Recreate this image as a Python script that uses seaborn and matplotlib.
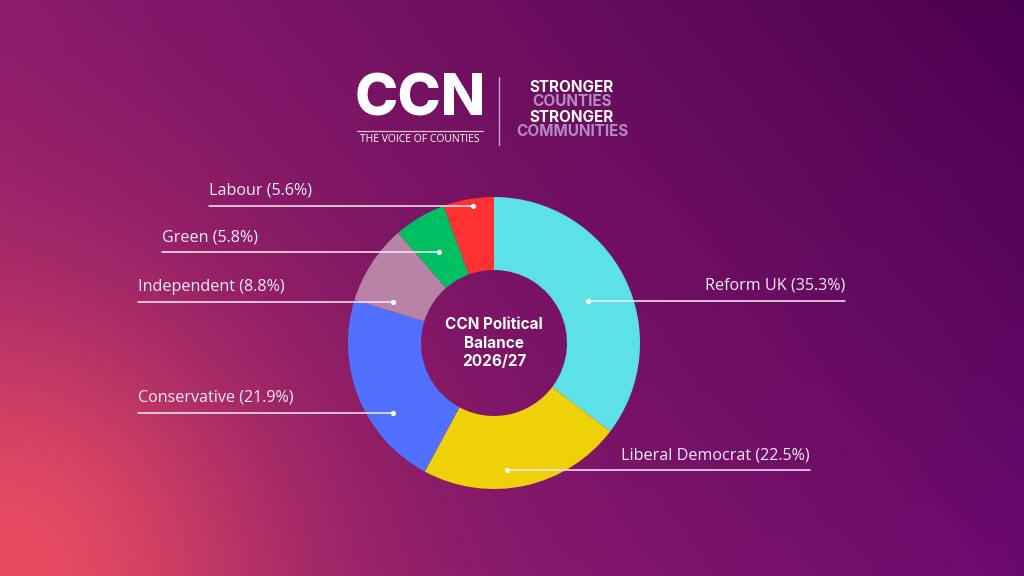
import numpy as np
import matplotlib.pyplot as plt
import seaborn as sns
from matplotlib.colors import to_rgb

# data
parties = ["Reform UK", "Liberal Democrat", "Conservative", "Independent", "Green", "Labour"]
shares = [35.3, 22.5, 21.9, 8.8, 5.8, 5.6]
colours = ["#5ce1e6", "#efd10a", "#5170ff", "#b983a8", "#00bf63", "#ff3131"]

# label layout: anchor dot (angle deg, radius px) and where the leader line ends
dot_ang = [24.2, 275.7, 214.6, 158.0, 121.3, 98.7]
dot_rad = [103, 128, 123, 109, 106, 139]
line_end = [845, 810, 138, 138, 162, 209]

W, H = 1024, 576
cx, cy = 494, H - 343
R, ring = 146, 73
txt_col = "#f6ebf6"

sns.set_style("white")
plt.rcParams["font.family"] = ["Open Sans", "DejaVu Sans"]

fig = plt.figure(figsize=(10.24, 5.76), dpi=100)
ax = fig.add_axes([0, 0, 1, 1])

# background gradient (purple top-right, pink-red bottom-left)
xx, yy = np.meshgrid(np.linspace(0, 1, W), np.linspace(0, 1, H))
tl, tr, bl, br = [np.array(to_rgb(c)) for c in ("#8c1b6c", "#4a0050", "#a22868", "#6a0a6e")]
xx3, yy3 = xx[..., None], yy[..., None]
bg = (1 - xx3) * (1 - yy3) * tl + xx3 * (1 - yy3) * tr + (1 - xx3) * yy3 * bl + xx3 * yy3 * br
d = np.sqrt((xx * W) ** 2 + ((1 - yy) * H) ** 2)
w = np.exp(-(d / 260) ** 2)[..., None]
bg = bg * (1 - w) + w * np.array(to_rgb("#e84c62"))
ax.imshow(bg, extent=(0, W, 0, H), origin="upper", aspect="auto", zorder=0)

# donut
ax.pie(shares, colors=colours, startangle=90, counterclock=False, radius=R,
       center=(cx, cy), wedgeprops=dict(width=ring, linewidth=0), frame=True)

# leader lines + labels
for name, share, a, r, xe in zip(parties, shares, dot_ang, dot_rad, line_end):
    t = np.deg2rad(a)
    px, py = cx + r * np.cos(t), cy + r * np.sin(t)
    ax.plot([px, xe], [py, py], color=txt_col, lw=1.1, zorder=4)
    ax.scatter([px], [py], s=14, color="white", zorder=5, linewidths=0)
    ha = "right" if xe > px else "left"
    ax.text(xe, py + 7, f"{name} ({share}%)", ha=ha, va="bottom",
            fontsize=11.6, color=txt_col, zorder=5)

ax.text(cx, cy, "CCN Political\nBalance\n2026/27", ha="center", va="center",
        fontsize=11, fontweight="bold", color="white", linespacing=1.3,
        family=["Inter", "DejaVu Sans"], zorder=5)

# header logo
ax.text(420, H - 101, "CCN", ha="center", va="center", fontsize=42,
        fontweight="heavy", color="white", family=["Inter", "DejaVu Sans"])
ax.plot([357, 483], [H - 131, H - 131], color="#d8bfdc", lw=0.9)
ax.text(420, H - 140, "THE VOICE OF COUNTIES", ha="center", va="center",
        fontsize=7.5, color="white")
ax.plot([499, 499], [H - 77, H - 145], color="#c9a3cf", lw=1)
mauve = "#b48cc4"
for s, y, c in [("STRONGER", 88, "white"), ("COUNTIES", 102, mauve),
                ("STRONGER", 117, "white"), ("COMMUNITIES", 131, mauve)]:
    ax.text(572, H - y, s, ha="center", va="center", fontsize=11,
            fontweight="bold", color=c, family=["Inter", "DejaVu Sans"])

ax.set_xlim(0, W)
ax.set_ylim(0, H)
ax.set_aspect("equal")
ax.axis("off")

fig.savefig("out.png", dpi=100)
